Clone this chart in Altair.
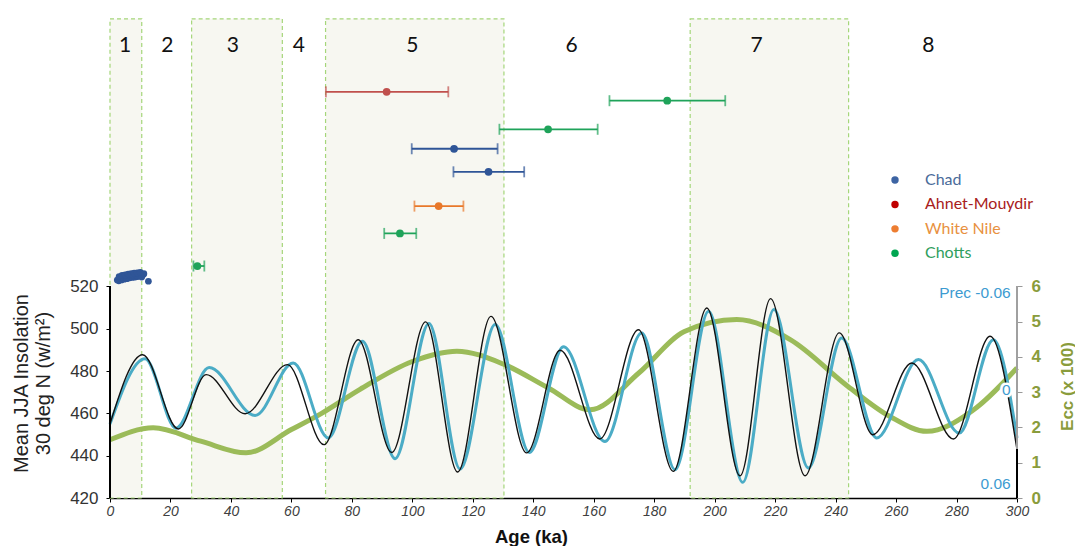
import altair as alt
import pandas as pd

# ---------------- data ----------------
# Mean JJA insolation at 30 deg N (black line), W/m2
ins_age = [0, 10.8, 22.6, 31.8, 44.7, 58.7, 70.8, 82.1, 93.2, 104.4, 115.0, 126.0, 137.8,
           148.9, 162.0, 174.8, 186.3, 197.4, 208.4, 218.5, 229.9, 241.2, 252.3, 265.2,
           279.0, 291.1, 300]
ins_val = [455.0, 487.7, 452.6, 478.3, 459.8, 483.0, 445.2, 494.8, 441.5, 503.2, 432.3, 505.8,
           441.3, 489.8, 447.9, 499.5, 432.6, 509.8, 430.5, 514.2, 430.5, 498.0, 449.9, 483.8,
           447.9, 496.4, 442.8]

# Precession (blue line), read on the insolation scale
prec_age = [0, 11.6, 21.8, 32.8, 48.0, 60.6, 72.2, 83.5, 94.3, 105.5, 115.8, 127.4, 138.7,
            150.0, 163.7, 175.9, 186.9, 198.0, 209.3, 219.6, 231.0, 242.0, 253.6, 267.4,
            280.9, 292.2, 300]
prec_val = [455.0, 485.8, 453.0, 481.6, 459.0, 483.8, 448.4, 494.0, 438.6, 502.5, 433.7, 502.0,
            441.5, 491.4, 446.7, 497.9, 433.4, 508.2, 427.4, 509.0, 434.2, 495.6, 448.4, 485.4,
            450.7, 494.8, 448.4]

# Eccentricity (x 100), green line, right axis
ecc_age = [0, 14.3, 30, 45, 60, 70, 82.7, 100, 114.7, 130, 145, 158.8, 175, 190, 207.3,
           225, 244, 258, 270.2, 285, 300]
ecc_val = [1.65, 1.99, 1.61, 1.28, 1.94, 2.40, 3.08, 3.87, 4.16, 3.80, 3.12, 2.50, 3.55,
           4.72, 5.06, 4.49, 3.17, 2.31, 1.89, 2.46, 3.69]

# Marine isotope stages
mis_start = [0, 27.0, 71.3, 191.9]
mis_end = [10.5, 57.0, 130.3, 244.3]
mis_top = 646.4
mis_names = ["1", "2", "3", "4", "5", "6", "7", "8"]
mis_name_age = [5.0, 19.0, 40.6, 62.5, 100.0, 152.7, 213.9, 270.7]
mis_name_level = 633.4

# Dated humid-phase records (centre age, range, row level)
eb_site = ["Ahnet-Mouydir", "Chotts", "Chotts", "Chad", "Chad", "White Nile", "Chotts", "Chotts"]
eb_age = [91.5, 184.3, 144.9, 113.8, 125.2, 108.7, 95.9, 28.9]
eb_low = [71.4, 165.2, 128.8, 99.8, 113.6, 100.7, 90.7, 27.6]
eb_high = [111.9, 203.5, 161.3, 128.2, 137.0, 116.9, 101.3, 31.2]
eb_row = [611.9, 607.7, 594.2, 585.0, 574.1, 557.9, 545.0, 529.6]

# Holocene Chad ages
chad_age = [2.4, 2.9, 3.3, 3.8, 4.2, 4.7, 5.1, 5.6, 6.0, 6.5, 6.9, 7.4, 7.8, 8.3, 8.7,
            9.2, 9.6, 10.1, 10.5, 11.0, 3.0, 4.0, 5.0, 6.0, 7.0, 8.0, 9.0, 10.0, 11.2, 12.7]
chad_val = [523.0, 522.6, 523.4, 523.0, 523.8, 523.4, 524.0, 523.6, 524.2, 524.0, 524.6,
            524.2, 524.8, 524.4, 525.0, 524.6, 525.2, 525.0, 524.4, 525.6, 524.6, 525.2,
            525.4, 525.8, 526.0, 526.2, 526.4, 526.6, 526.0, 522.4]

# Precession scale annotation
prec_text = ["Prec -0.06", "0", "0.06"]
prec_text_level = [516.7, 471.0, 426.6]
prec_text_age = 297.9

sites = ["Chad", "Ahnet-Mouydir", "White Nile", "Chotts"]
site_colors = ["#2f5597", "#c0504d", "#e8782a", "#1fa35a"]
legend_dot_colors = ["#3d64a3", "#c00000", "#ed7d31", "#00a651"]
legend_label_colors = ["#4a6b9a", "#a82020", "#e8913f", "#2f9e5d"]

# ---------------- frames ----------------
df_ins = pd.DataFrame({"age": ins_age, "val": ins_val})
df_prec = pd.DataFrame({"age": prec_age, "val": prec_val})
df_ecc = pd.DataFrame({"age": ecc_age, "ecc": ecc_val})
df_mis = pd.DataFrame({"start": mis_start, "end": mis_end})
df_misname = pd.DataFrame({"age": mis_name_age, "name": mis_names})
df_eb = pd.DataFrame({"site": eb_site, "age": eb_age, "low": eb_low, "high": eb_high, "row": eb_row})
df_chad = pd.DataFrame({"site": ["Chad"] * len(chad_age), "age": chad_age, "row": chad_val})
df_prect = pd.DataFrame({"t": prec_text, "val": prec_text_level})
df_leg = pd.DataFrame({"site": sites})

Y_DOM = [420, 651.5]
ECC_DOM = [0, (Y_DOM[1] - Y_DOM[0]) * 6 / 100]

xscale = alt.Scale(domain=[0, 300], nice=False, zero=False)
yscale = alt.Scale(domain=Y_DOM, nice=False, zero=False)
escale = alt.Scale(domain=ECC_DOM, nice=False, zero=False)
cscale = alt.Scale(domain=sites, range=site_colors)

ARIAL = "Liberation Sans"
CAL = "Lato"

x_axis = alt.Axis(
    orient="bottom",
    values=list(range(0, 301, 5)),
    labelExpr="datum.value % 10 === 0 ? datum.label : ''",
    labelFont=ARIAL, labelFontStyle="italic", labelFontSize=14, labelColor="#404040",
    labelFlush=False, labelOverlap=False, labelPadding=2,
    tickSize=4, tickColor="#000", domainColor="#000", domainWidth=1.5, grid=False,
    title="Age (ka)", titleFont=ARIAL, titleFontWeight="bold", titleFontSize=18.5,
    titleColor="#111", titleX=421, titleY=44, titleBaseline="alphabetic",
    titleAlign="center", titleAnchor="start",
)

y_axis = alt.Axis(
    orient="left", values=[420, 440, 460, 480, 500, 520], domain=False, grid=False,
    tickSize=4, tickColor="#000", labelFont=ARIAL, labelFontSize=17, labelColor="#333",
    labelPadding=8,
    title=["Mean JJA Insolation", "30 deg N (w/m\u00b2)"], titleFont=ARIAL,
    titleFontSize=20, titleFontWeight="normal", titleColor="#222",
    titleAngle=270, titleX=-79, titleY=375, titleBaseline="bottom", titleAlign="center",
    titleLineHeight=22,
)

e_axis = alt.Axis(
    orient="right", values=[0, 1, 2, 3, 4, 5, 6], domain=False, grid=False,
    tickSize=5, tickColor="#999", labelFont=ARIAL, labelFontSize=17, labelFontWeight="bold",
    labelColor="#8a9c3c", labelPadding=9,
    title="Ecc (x 100)", titleFont=ARIAL, titleFontSize=17, titleFontWeight="bold",
    titleColor="#8a9c3c", titleAngle=270, titleX=59, titleY=378, titleBaseline="bottom",
    titleAlign="center",
)


def X(field=None, datum=None, axis=alt.Undefined):
    # shared x scale: layers leave the axis unspecified so it merges with the main one
    if datum is not None:
        return alt.X(datum=datum, scale=xscale, axis=axis)
    return alt.X(field, type="quantitative", scale=xscale, axis=axis)


def Y(field=None, datum=None, axis=None):
    if datum is not None:
        return alt.Y(datum=datum, scale=yscale, axis=axis)
    return alt.Y(field, type="quantitative", scale=yscale, axis=axis)


# MIS boxes and stage numbers
boxes = alt.Chart(df_mis).mark_rect(
    fill="#f7f7f1", stroke="#a5d67a", strokeDash=[4, 3], strokeWidth=1.2
).encode(x=X("start"), x2="end:Q", y=Y(datum=420), y2=alt.Y2(datum=mis_top))

misnames = alt.Chart(df_misname).mark_text(
    font=CAL, fontSize=21, color="#111", baseline="middle", align="center"
).encode(x=X("age"), y=Y(datum=mis_name_level), text="name:N")

# Eccentricity
ecc = alt.Chart(df_ecc).mark_line(
    color="#9bbb59", strokeWidth=5, interpolate="monotone"
).encode(x=X("age"), y=alt.Y("ecc:Q", scale=escale, axis=e_axis))

# Precession and insolation
blue = alt.Chart(df_prec).mark_line(
    color="#4bacc6", strokeWidth=3, interpolate="monotone"
).encode(x=X("age"), y=Y("val"))

black = alt.Chart(df_ins).mark_line(
    color="#111", strokeWidth=1.4, interpolate="monotone"
).encode(x=X("age", axis=x_axis), y=Y("val", axis=y_axis))

left_line = alt.Chart(df_ins).mark_rule(color="#000", strokeWidth=1.5).encode(
    x=X(datum=0), y=Y(datum=420), y2=alt.Y2(datum=520))
right_line = alt.Chart(df_ins).mark_rule(color="#a0a0a0", strokeWidth=1.5).encode(
    x=X(datum=300), y=Y(datum=420), y2=alt.Y2(datum=520))
right_black = alt.Chart(df_ins).mark_rule(color="#000", strokeWidth=1.5).encode(
    x=X(datum=300), y=Y(datum=420), y2=alt.Y2(datum=ins_val[-1]))

# Dated records
eb_rule = alt.Chart(df_eb).mark_rule(strokeWidth=1.8).encode(
    x=X("low"), x2="high:Q", y=Y("row"),
    color=alt.Color("site:N", scale=cscale, legend=None))
eb_caps = alt.Chart(df_eb).transform_fold(["low", "high"], as_=["end", "pos"]).mark_tick(
    orient="vertical", size=11, thickness=1.8
).encode(x=X("pos"), y=Y("row"), color=alt.Color("site:N", scale=cscale, legend=None))
eb_pts = alt.Chart(df_eb).mark_circle(size=60, opacity=1).encode(
    x=X("age"), y=Y("row"), color=alt.Color("site:N", scale=cscale, legend=None))
chad_pts = alt.Chart(df_chad).mark_circle(size=45, opacity=1).encode(
    x=X("age"), y=Y("row"), color=alt.Color("site:N", scale=cscale, legend=None))

# precession scale labels with a white backing
prec_halo = alt.Chart(df_prect).mark_text(
    font=ARIAL, fontSize=15.5, color="white", stroke="white", strokeWidth=5,
    align="right", baseline="middle"
).encode(x=X(datum=prec_text_age), y=Y("val"), text="t:N")
prec_labels = alt.Chart(df_prect).mark_text(
    font=ARIAL, fontSize=15.5, color="#3d9bd1", align="right", baseline="middle"
).encode(x=X(datum=prec_text_age), y=Y("val"), text="t:N")

# Legend (rows on their own point scale)
leg_rows = alt.Scale(domain=sites, range=[172, 245.3], padding=0)
leg_dots = alt.Chart(df_leg).mark_circle(size=55, opacity=1).encode(
    x=alt.value(785),
    y=alt.Y("site:N", scale=leg_rows, axis=None, sort=sites),
    fill=alt.Fill("site:N", scale=alt.Scale(domain=sites, range=legend_dot_colors), legend=None),
)
leg_text = alt.Chart(df_leg).mark_text(
    font=CAL, fontSize=16, align="left", baseline="middle"
).encode(
    x=alt.value(815),
    y=alt.Y("site:N", scale=leg_rows, axis=None, sort=sites),
    text="site:N",
    fill=alt.Fill("site:N", scale=alt.Scale(domain=sites, range=legend_label_colors), legend=None),
)

chart = alt.layer(
    boxes, misnames, ecc, blue, black, left_line, right_line, right_black,
    eb_rule, eb_caps, eb_pts, chad_pts, prec_halo, prec_labels, leg_dots, leg_text
).resolve_scale(y="independent", fill="independent").properties(
    width=907, height=490,
    autosize=alt.AutoSizeParams(type="none"),
    padding={"left": 102, "top": 0, "right": 58, "bottom": 48},
).configure_view(strokeWidth=0, stroke="transparent")

chart.save("out.html", embed_options={"renderer": "svg", "actions": False})
